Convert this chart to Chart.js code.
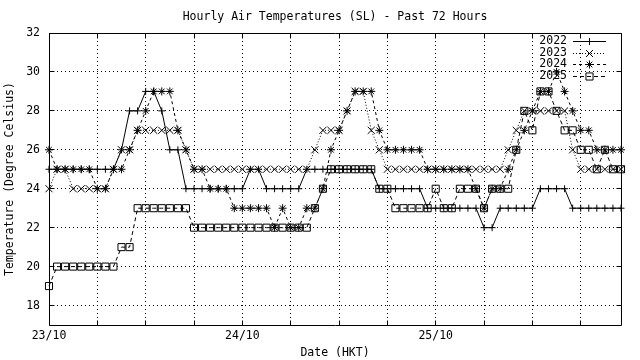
<!DOCTYPE html>
<html>
<head>
<meta charset="utf-8">
<script src="https://cdn.jsdelivr.net/npm/chart.js@4/dist/chart.umd.min.js"></script>
<style>
html,body{margin:0;padding:0;background:#ffffff;}
#wrap{width:640px;height:360px;position:relative;}
</style>
</head>
<body>
<div id="wrap"><canvas id="c" width="640" height="360"></canvas></div>
<script>
// ---- data (hourly, 23/10 00:00 .. 25/10 23:00) ----
const days = ['23/10', '24/10', '25/10'];
const categories = [];
days.forEach(d => { for (let h = 0; h < 24; h++) categories.push(d + ' ' + String(h).padStart(2, '0') + ':00'); });

const yTickValues = [18, 20, 22, 24, 26, 28, 30, 32];
const seriesNames = ['2022', '2023', '2024', '2025'];

const temps2022 = [25,25,25,25,25,25,25,25,25,26,28,28,29,29,28,26,26,24,24,24,24,24,24,24,
                   24,25,25,24,24,24,24,24,25,25,25,25,25,25,25,25,25,24,24,24,24,24,24,23,
                   23,23,23,23,23,23,22,22,23,23,23,23,23,24,24,24,24,23,23,23,23,23,23,23];
const temps2023 = [24,25,25,24,24,24,24,24,25,26,26,27,27,27,27,27,27,26,25,25,25,25,25,25,
                   25,25,25,25,25,25,25,25,25,26,27,27,27,28,29,29,27,26,25,25,25,25,25,25,
                   25,25,25,25,25,25,25,25,25,26,27,28,28,28,28,28,28,26,25,25,25,25,25,25];
const temps2024 = [26,25,25,25,25,25,24,24,25,25,26,27,28,29,29,29,27,26,25,25,24,24,24,23,
                   23,23,23,23,22,23,22,22,23,23,24,26,27,28,29,29,29,27,26,26,26,26,26,25,
                   25,25,25,25,25,24,23,24,24,25,26,27,28,29,29,30,29,28,27,27,26,26,26,26];
const temps2025 = [19,20,20,20,20,20,20,20,20,21,21,23,23,23,23,23,23,23,22,22,22,22,22,22,
                   22,22,22,22,22,22,22,22,22,23,24,25,25,25,25,25,25,24,24,23,23,23,23,23,
                   24,23,23,24,24,24,23,24,24,24,26,28,27,29,29,28,27,27,26,26,25,26,25,25];

const FONT = { family: 'DejaVu Sans Mono', size: 11.5 };

const styles = [
  { dash: [], point: 'cross', r: 3.5 },
  { dash: [1, 2], point: 'crossRot', r: 5 },
  { dash: [3, 3], point: 'star', r: 4 },
  { dash: [4, 3], point: 'rect', r: 5 }
];
const allSeries = [temps2022, temps2023, temps2024, temps2025];

const datasets = allSeries.map((vals, i) => ({
  label: seriesNames[i],
  data: vals,
  borderColor: '#000',
  borderWidth: 1,
  borderDash: styles[i].dash,
  pointStyle: styles[i].point,
  pointRadius: styles[i].r,
  pointHoverRadius: styles[i].r,
  pointBorderColor: '#000',
  pointBorderWidth: 1,
  pointBackgroundColor: 'rgba(0,0,0,0)',
  tension: 0,
  fill: false,
  clip: false,
  order: 4 - i
}));

function align(v) { return Math.round(v - 0.5) + 0.5; }

const framePlugin = {
  id: 'frame',
  beforeDatasetsDraw(chart) {
    const ctx = chart.ctx, a = chart.chartArea;
    const xs = chart.scales.x, ys = chart.scales.y;
    ctx.save();
    ctx.strokeStyle = '#000';
    ctx.lineWidth = 1;
    ctx.setLineDash([]);
    const L = align(a.left), R = align(a.right), T = align(a.top), B = align(a.bottom);
    ctx.beginPath();
    ctx.rect(L, T, R - L, B - T);
    ctx.stroke();
    ctx.beginPath();
    for (let i = 0; i < categories.length; i += 6) {
      const x = align(xs.getPixelForValue(i));
      ctx.moveTo(x, B); ctx.lineTo(x, B - 5);
      ctx.moveTo(x, T); ctx.lineTo(x, T + 5);
    }
    yTickValues.forEach(v => {
      const y = align(ys.getPixelForValue(v));
      ctx.moveTo(L, y); ctx.lineTo(L + 5, y);
      ctx.moveTo(R, y); ctx.lineTo(R - 5, y);
    });
    ctx.stroke();
    ctx.restore();
  },
  afterDraw(chart) {
    const ctx = chart.ctx, a = chart.chartArea;
    ctx.save();
    ctx.fillStyle = '#000';
    ctx.font = FONT.size + 'px "' + FONT.family + '"';
    ctx.textAlign = 'center';
    ctx.textBaseline = 'middle';
    ctx.fillText('Hourly Air Temperatures (SL) - Past 72 Hours', (a.left + a.right) / 2, 17);
    // legend
    const rows = [41, 53, 64, 76];
    chart.data.datasets.forEach((ds, i) => {
      const y = rows[i];
      ctx.textAlign = 'right';
      ctx.fillStyle = '#000';
      ctx.fillText(ds.label, 567, y);
      ctx.strokeStyle = '#000';
      ctx.lineWidth = 1;
      ctx.setLineDash(ds.borderDash);
      ctx.beginPath();
      ctx.moveTo(573, y + 0.5); ctx.lineTo(606, y + 0.5);
      ctx.stroke();
      ctx.setLineDash([]);
      ctx.fillStyle = 'rgba(0,0,0,0)';
      Chart.helpers.drawPoint(ctx, { pointStyle: ds.pointStyle, radius: ds.pointRadius, borderWidth: 1, rotation: 0 }, 589.5, y + 0.5);
    });
    ctx.restore();
  }
};

new Chart(document.getElementById('c'), {
  type: 'line',
  data: { labels: categories, datasets },
  options: {
    responsive: false,
    animation: false,
    devicePixelRatio: 1,
    events: [],
    layout: { padding: { top: 33, right: 19, left: 0, bottom: 0 } },
    plugins: { legend: { display: false }, title: { display: false }, tooltip: { enabled: false } },
    scales: {
      x: {
        type: 'category',
        offset: false,
        grid: {
          display: true, drawTicks: false, lineWidth: 1,
          color: c => (c.index % 6 === 0 && c.index > 0) ? '#000' : 'rgba(0,0,0,0)'
        },
        border: { display: false, dash: [1, 3] },
        ticks: {
          autoSkip: false, maxRotation: 0, minRotation: 0, padding: 4, color: '#000', font: FONT,
          callback: (v, i) => (i % 24 === 0 ? categories[i].split(' ')[0] : '')
        },
        title: { display: true, text: 'Date (HKT)', color: '#000', font: FONT, padding: { top: 0, bottom: 0 } },
        afterFit: s => { s.height = 35; }
      },
      y: {
        type: 'linear',
        min: 17, max: 32,
        afterBuildTicks: s => { s.ticks = yTickValues.map(v => ({ value: v })); },
        grid: { display: true, drawTicks: false, lineWidth: 1, color: '#000' },
        border: { display: false, dash: [1, 3] },
        ticks: { padding: 9, color: '#000', font: FONT },
        title: { display: true, text: 'Temperature (Degree Celsius)', color: '#000', font: FONT, padding: { top: 3, bottom: 0 } },
        afterFit: s => { s.width = 49; }
      }
    }
  },
  plugins: [framePlugin]
});
</script>
</body>
</html>
